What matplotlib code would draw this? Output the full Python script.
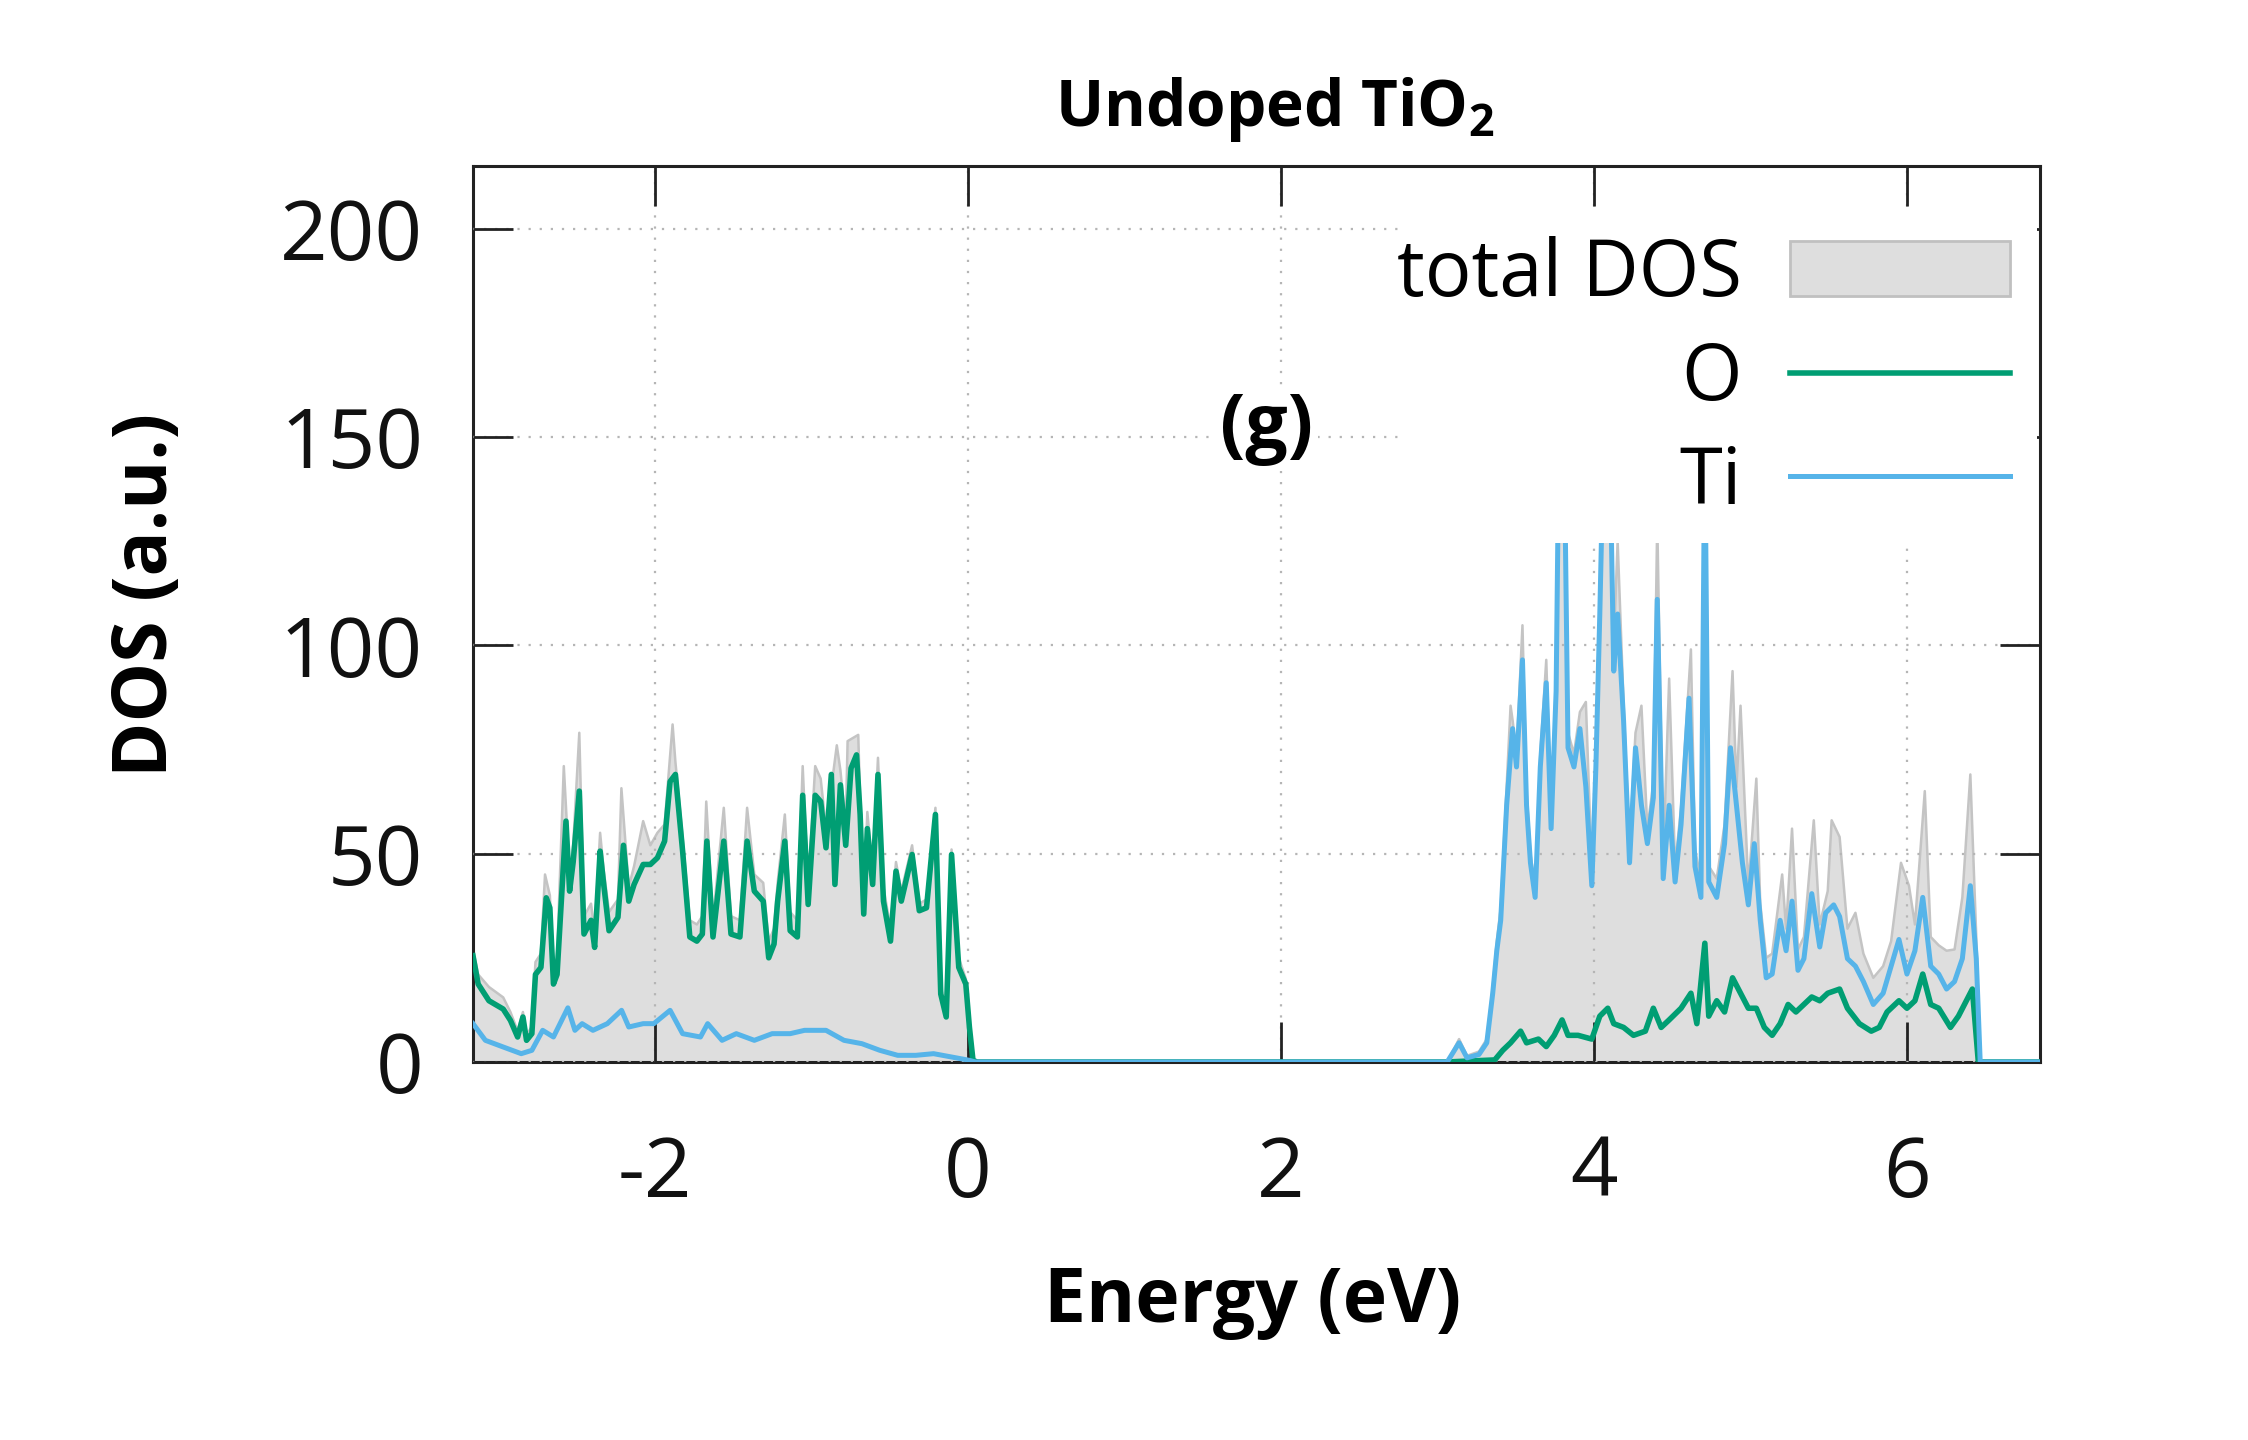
import matplotlib
matplotlib.use("Agg")
import matplotlib.pyplot as plt
from matplotlib.patches import Rectangle, Patch

plt.rcParams['font.family'] = ['Open Sans', 'DejaVu Sans']
plt.rcParams['axes.unicode_minus'] = False

# ---------------- data ----------------
energy_O = [-3.16, -3.127, -3.058, -2.967, -2.921, -2.875, -2.841, -2.818, -2.784, -2.761,
            -2.726, -2.692, -2.669, -2.646, -2.623, -2.566, -2.543, -2.520, -2.481, -2.451,
            -2.406, -2.383, -2.348, -2.325, -2.291, -2.234, -2.199, -2.165, -2.131, -2.073,
            -2.027, -1.982, -1.936, -1.901, -1.867, -1.821, -1.775, -1.730, -1.695, -1.666,
            -1.627, -1.558, -1.512, -1.455, -1.409, -1.363, -1.306, -1.271, -1.237, -1.214,
            -1.168, -1.134, -1.088, -1.054, -1.019, -0.974, -0.939, -0.905, -0.871, -0.848,
            -0.813, -0.779, -0.745, -0.710, -0.687, -0.664, -0.641, -0.607, -0.573, -0.538,
            -0.493, -0.458, -0.424, -0.355, -0.309, -0.263, -0.206, -0.172, -0.137, -0.103,
            -0.057, -0.012, 0.011, 0.034, 0.06,
            3.06, 3.367, 3.418, 3.468, 3.532, 3.570, 3.646, 3.696, 3.747, 3.797,
            3.835, 3.899, 3.987, 4.038, 4.089, 4.127, 4.190, 4.253, 4.329, 4.380,
            4.430, 4.481, 4.557, 4.620, 4.658, 4.709, 4.734, 4.785, 4.835, 4.886,
            4.937, 4.987, 5.038, 5.089, 5.139, 5.190, 5.241, 5.291, 5.342, 5.392,
            5.443, 5.494, 5.570, 5.620, 5.696, 5.772, 5.823, 5.873, 5.949, 6.000,
            6.051, 6.101, 6.152, 6.203, 6.278, 6.329, 6.380, 6.418, 6.456, 6.85]
dos_O = [25.5, 18.7, 14.7, 12.7, 10.0, 6.0, 10.8, 5.2, 6.8, 21.0,
         22.7, 39.4, 37.0, 18.7, 21.0, 57.8, 41.0, 48.0, 65.0, 30.7,
         34.0, 27.5, 50.6, 42.6, 31.5, 34.7, 52.0, 38.6, 42.6, 47.4,
         47.4, 49.0, 53.0, 67.3, 69.0, 50.6, 30.0, 29.0, 30.7, 53.0,
         30.0, 53.0, 30.7, 30.0, 53.0, 41.0, 38.6, 25.0, 28.3, 38.6,
         53.0, 31.5, 30.0, 64.0, 37.8, 64.0, 62.5, 51.4, 69.0, 42.6,
         66.5, 52.0, 70.5, 73.7, 59.4, 35.5, 56.0, 42.6, 69.0, 38.6,
         29.0, 45.8, 38.6, 49.8, 36.3, 37.0, 59.4, 16.3, 10.8, 49.8,
         22.7, 18.7, 8.4, 0.4, 0.0,
         0.0, 0.5, 2.8, 4.6, 7.4, 4.6, 5.5, 3.7, 6.4, 10.1,
         6.4, 6.4, 5.5, 11.0, 12.9, 9.2, 8.3, 6.4, 7.4, 12.9,
         8.3, 10.1, 12.9, 16.5, 9.2, 28.5, 11.0, 14.7, 12.0, 20.2,
         16.5, 12.9, 12.9, 8.3, 6.4, 9.2, 13.8, 12.0, 13.8, 15.6,
         14.7, 16.5, 17.5, 12.9, 9.2, 7.4, 8.3, 12.0, 14.7, 12.9,
         14.7, 21.1, 13.8, 12.9, 8.3, 11.0, 14.7, 17.5, 0.0, 0.0]

energy_Ti = [-3.16, -3.081, -2.967, -2.852, -2.784, -2.715, -2.646, -2.554, -2.509, -2.463,
             -2.394, -2.302, -2.211, -2.165, -2.073, -2.005, -1.901, -1.821, -1.707, -1.661,
             -1.569, -1.478, -1.363, -1.249, -1.134, -1.042, -0.905, -0.790, -0.676, -0.561,
             -0.447, -0.332, -0.218, -0.103, 0.011, 0.05,
             3.063, 3.139, 3.190, 3.266, 3.316, 3.354, 3.380, 3.405, 3.443, 3.481,
             3.506, 3.544, 3.570, 3.595, 3.625, 3.658, 3.696, 3.727, 3.759, 3.777,
             3.810, 3.835, 3.873, 3.911, 3.949, 3.987, 4.013, 4.038, 4.063, 4.101,
             4.127, 4.152, 4.190, 4.228, 4.266, 4.304, 4.342, 4.380, 4.405, 4.443,
             4.481, 4.519, 4.557, 4.608, 4.646, 4.684, 4.709, 4.734, 4.785, 4.835,
             4.873, 4.911, 4.949, 4.987, 5.025, 5.063, 5.101, 5.139, 5.190, 5.228,
             5.266, 5.304, 5.342, 5.392, 5.443, 5.481, 5.532, 5.570, 5.620, 5.671,
             5.722, 5.785, 5.848, 5.899, 5.949, 6.000, 6.051, 6.101, 6.152, 6.203,
             6.253, 6.304, 6.354, 6.405, 6.443, 6.468, 6.85]
dos_Ti = [9.2, 5.2, 3.6, 2.0, 2.8, 7.6, 6.0, 13.0, 7.6, 9.2,
          7.6, 9.2, 12.4, 8.4, 9.2, 9.2, 12.4, 6.8, 6.0, 9.2,
          5.2, 6.8, 5.2, 6.8, 6.8, 7.6, 7.6, 5.2, 4.4, 2.8,
          1.6, 1.6, 2.0, 1.2, 0.4, 0.0,
          0.0, 4.6, 1.0, 1.8, 4.6, 16.5, 26.7, 34.0, 61.6, 80.0,
          70.8, 96.5, 61.6, 47.8, 39.5, 70.8, 91.0, 56.0, 89.0, 150.0,
          150.0, 75.4, 70.8, 80.0, 66.0, 42.3, 70.8, 107.5, 150.0, 150.0,
          93.8, 107.5, 81.8, 47.8, 75.4, 61.6, 52.4, 63.4, 111.0, 44.0,
          61.6, 43.2, 57.0, 87.3, 46.9, 39.5, 150.0, 43.2, 39.5, 52.4,
          75.4, 61.6, 47.8, 37.7, 52.4, 34.0, 20.2, 21.1, 34.0, 26.7,
          38.6, 22.0, 24.8, 40.4, 27.6, 35.8, 37.7, 34.9, 24.8, 23.0,
          19.3, 13.8, 16.5, 23.0, 29.4, 21.1, 26.7, 39.5, 23.0, 21.1,
          17.5, 19.3, 24.8, 42.3, 24.8, 0.0, 0.0]

energy_total = [-3.16, -3.127, -3.058, -2.967, -2.921, -2.875, -2.841, -2.818, -2.784, -2.761,
                -2.726, -2.700, -2.669, -2.646, -2.623, -2.580, -2.543, -2.520, -2.481, -2.451,
                -2.406, -2.383, -2.348, -2.325, -2.291, -2.234, -2.212, -2.165, -2.131, -2.073,
                -2.027, -1.982, -1.936, -1.885, -1.867, -1.821, -1.775, -1.730, -1.695, -1.670,
                -1.627, -1.558, -1.512, -1.455, -1.409, -1.363, -1.306, -1.271, -1.237, -1.214,
                -1.168, -1.134, -1.088, -1.054, -1.019, -0.974, -0.939, -0.905, -0.836, -0.813,
                -0.779, -0.767, -0.699, -0.687, -0.664, -0.641, -0.607, -0.573, -0.538, -0.493,
                -0.458, -0.424, -0.355, -0.309, -0.263, -0.206, -0.172, -0.137, -0.103, -0.057,
                -0.012, 0.011, 0.034, 0.06,
                3.063, 3.139, 3.190, 3.266, 3.316, 3.354, 3.380, 3.405, 3.443, 3.468,
                3.481, 3.506, 3.544, 3.570, 3.595, 3.625, 3.658, 3.696, 3.727, 3.759,
                3.777, 3.810, 3.835, 3.873, 3.911, 3.949, 3.987, 4.013, 4.038, 4.063,
                4.101, 4.127, 4.152, 4.190, 4.228, 4.266, 4.304, 4.342, 4.380, 4.405,
                4.443, 4.481, 4.519, 4.557, 4.620, 4.646, 4.684, 4.709, 4.734, 4.785,
                4.835, 4.886, 4.911, 4.937, 4.987, 5.038, 5.063, 5.101, 5.139, 5.203,
                5.228, 5.266, 5.304, 5.342, 5.405, 5.443, 5.494, 5.519, 5.570, 5.620,
                5.671, 5.722, 5.785, 5.848, 5.899, 5.962, 6.013, 6.051, 6.114, 6.152,
                6.203, 6.253, 6.304, 6.354, 6.405, 6.443, 6.468, 6.85]
dos_total = [27.0, 21.0, 18.0, 15.5, 12.0, 7.5, 12.0, 6.5, 8.5, 24.0,
             26.0, 45.0, 40.0, 22.0, 25.0, 71.0, 45.0, 52.0, 79.0, 35.0,
             38.0, 31.0, 55.0, 46.0, 36.0, 39.0, 65.7, 42.0, 47.0, 57.8,
             52.0, 55.0, 57.0, 81.0, 72.0, 54.0, 34.0, 33.0, 35.0, 62.5,
             34.0, 61.0, 35.0, 34.0, 61.0, 45.0, 43.0, 29.0, 32.0, 43.0,
             59.4, 36.0, 34.0, 71.0, 42.0, 71.0, 68.0, 56.0, 76.0, 70.0,
             57.0, 77.0, 78.5, 63.0, 39.0, 60.0, 46.0, 73.0, 42.0, 32.0,
             48.0, 41.0, 52.0, 38.0, 39.0, 61.0, 18.0, 12.5, 51.0, 25.0,
             20.0, 9.0, 1.0, 0.0,
             0.0, 5.5, 1.5, 2.5, 5.5, 18.0, 29.0, 37.0, 66.0, 85.5,
             82.0, 74.0, 104.8, 65.0, 50.0, 42.0, 74.0, 96.5, 60.0, 92.0,
             150.0, 150.0, 79.0, 74.0, 84.0, 86.4, 46.0, 74.0, 112.0, 150.0,
             150.0, 100.0, 125.0, 86.0, 52.0, 79.0, 85.5, 56.0, 67.0, 130.0,
             48.0, 92.0, 47.0, 61.0, 99.0, 51.0, 44.0, 150.0, 47.0, 44.0,
             57.0, 93.8, 66.0, 85.5, 42.0, 68.0, 38.0, 25.0, 26.0, 45.0,
             32.0, 56.0, 27.0, 30.0, 58.0, 33.0, 41.0, 58.0, 54.0, 32.0,
             35.8, 26.0, 20.2, 23.0, 29.0, 47.8, 42.3, 33.0, 65.0, 30.0,
             28.0, 26.7, 27.0, 39.5, 69.0, 30.0, 0.0, 0.0]

x_ticks = [-2, 0, 2, 4, 6]
y_ticks = [0, 50, 100, 150, 200]
series_labels = ['total DOS', 'O', 'Ti']

# ---------------- figure ----------------
W, H, DPI = 2248, 1440, 100
fig = plt.figure(figsize=(W / DPI, H / DPI), dpi=DPI)
AX_L, AX_R, AX_T, AX_B = 473, 2040, 166, 1062
ax = fig.add_axes([AX_L / W, 1 - AX_B / H, (AX_R - AX_L) / W, (AX_B - AX_T) / H])

GREEN = '#009E73'
BLUE = '#56B4E9'

ax.fill_between(energy_total, dos_total, 0, facecolor='#dedede',
                edgecolor='none', zorder=1)
ax.plot(energy_total, dos_total, color='#c4c4c4', lw=1.8, zorder=1.2)
line_O, = ax.plot(energy_O, dos_O, color=GREEN, lw=4.0, zorder=3)
line_Ti, = ax.plot(energy_Ti, dos_Ti, color=BLUE, lw=3.6, zorder=3)

ax.set_xlim(-3.16, 6.85)
ax.set_ylim(0, 215)
ax.set_xticks(x_ticks)
ax.set_yticks(y_ticks)
ax.set_xticklabels([str(t) for t in x_ticks])
ax.set_yticklabels([str(t) for t in y_ticks])

ax.set_axisbelow(False)
ax.grid(True, linestyle=(0, (1, 4)), color='#b5b5b5', linewidth=1.6, zorder=2.5)

ax.tick_params(direction='in', length=29, width=2, color='#222222',
               top=True, right=True, labelsize=60, labelcolor='#111111')
ax.tick_params(axis='x', pad=52)
ax.tick_params(axis='y', pad=36)
for sp in ax.spines.values():
    sp.set_linewidth(2.2)
    sp.set_color('#222222')

# white box behind the key (hides data/grid there)
ax.add_patch(Rectangle((2.75, 124.5), 6.83 - 2.75, 204 - 124.5,
                       facecolor='white', edgecolor='none', zorder=4))

key_fill = Patch(facecolor='#dedede', edgecolor='#c0c0c0', linewidth=2)
leg = ax.legend([key_fill, line_O, line_Ti], series_labels,
                loc='upper right', bbox_to_anchor=(0.981, 0.922),
                borderaxespad=0, borderpad=0, frameon=False, markerfirst=False,
                fontsize=56, handlelength=2.83, handletextpad=0.62,
                labelspacing=0.32, handleheight=0.7)
leg.set_zorder(6)

ax.text(1.91, 152, '(g)', ha='center', va='center', fontsize=54,
        fontweight='bold', zorder=5,
        bbox=dict(facecolor='white', edgecolor='none', pad=4))

ax.set_xlabel('Energy (eV)', fontsize=54, fontweight='bold', va='center')
ax.xaxis.set_label_coords((1253 - AX_L) / (AX_R - AX_L), (AX_B - 1302) / (AX_B - AX_T))
ax.set_ylabel('DOS (a.u.)', fontsize=54, fontweight='bold', va='center')
ax.yaxis.set_label_coords((148 - AX_L) / (AX_R - AX_L), (AX_B - 595) / (AX_B - AX_T))

fig.text(1275 / W, 1 - 126 / H, r'Undoped TiO$\mathregular{_2}$', ha='center',
         va='baseline', fontsize=46, fontweight='bold')

fig.savefig('out.png', dpi=DPI, facecolor='white')
